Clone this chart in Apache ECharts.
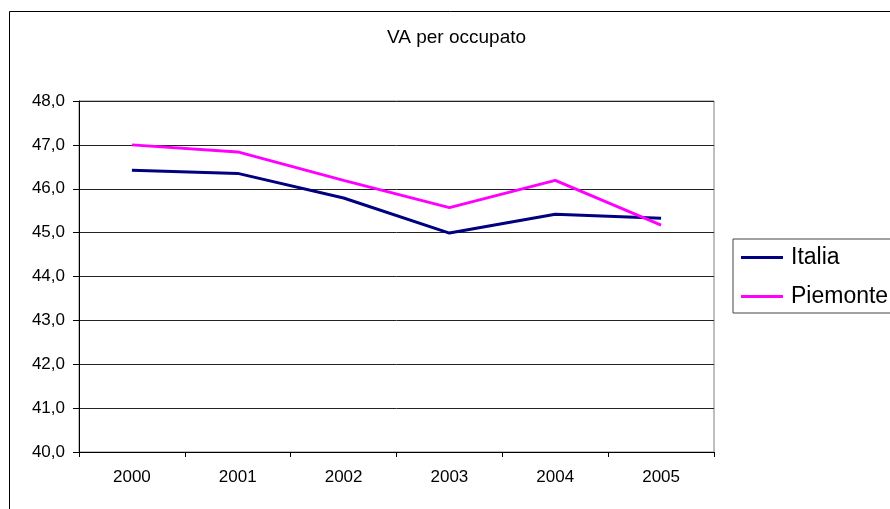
<!DOCTYPE html>
<html>
<head>
<meta charset="utf-8">
<script src="https://cdn.jsdelivr.net/npm/echarts@6/dist/echarts.min.js"></script>
<style>
  html, body { margin: 0; padding: 0; background: #fff; }
  #chart { width: 890px; height: 509px; }
</style>
</head>
<body>
<div id="chart"></div>
<script>
  var years = ['2000', '2001', '2002', '2003', '2004', '2005'];
  var italia = [46.42, 46.35, 45.79, 44.99, 45.42, 45.33];
  var piemonte = [47.00, 46.84, 46.19, 45.57, 46.19, 45.17];
  var yMin = 40, yMax = 48, yStep = 1;

  var font = "'Liberation Sans', Arial, sans-serif";
  var myChart = echarts.init(document.getElementById('chart'));

  var option = {
    animation: false,
    textStyle: { fontFamily: font },
    title: {
      text: 'VA per occupato',
      left: 387,
      top: 28,
      padding: 0,
      textStyle: { fontSize: 19, fontWeight: 'normal', color: '#000', fontFamily: font }
    },
    // cornice esterna del grafico
    graphic: [{
      type: 'rect',
      shape: { x: 9.5, y: 11.5, width: 1000, height: 1000 },
      style: { fill: 'none', stroke: '#000', lineWidth: 1 },
      silent: true
    }],
    legend: {
      orient: 'vertical',
      left: 733,
      top: 239,
      padding: [7, 40, 5, 8],
      itemGap: 16,
      itemWidth: 42,
      itemHeight: 3,
      icon: 'rect',
      borderColor: '#444',
      borderWidth: 1,
      textStyle: { fontSize: 23, lineHeight: 23, color: '#000', fontFamily: font, padding: [0, 0, 0, 3] },
      data: ['Italia', 'Piemonte']
    },
    grid: {
      left: 79,
      right: 176,
      top: 101,
      bottom: 57,
      show: true,
      borderColor: '#808080',
      borderWidth: 1
    },
    xAxis: {
      type: 'category',
      data: years,
      boundaryGap: true,
      axisLine: { lineStyle: { color: '#000', width: 1 } },
      axisTick: { show: true, length: 5, lineStyle: { color: '#000' } },
      axisLabel: { fontSize: 17, color: '#000', margin: 17, fontFamily: font },
      splitLine: { show: false }
    },
    yAxis: {
      type: 'value',
      min: yMin,
      max: yMax,
      interval: yStep,
      axisLine: { show: true, lineStyle: { color: '#000', width: 1 } },
      axisTick: { show: true, length: 6, lineStyle: { color: '#000' } },
      axisLabel: {
        fontSize: 17, color: '#000', margin: 14, fontFamily: font,
        formatter: function (v) { return v.toFixed(1).replace('.', ','); }
      },
      splitLine: { show: true, lineStyle: { color: '#222', width: 1 } }
    },
    series: [
      {
        name: 'Italia',
        type: 'line',
        data: italia,
        symbol: 'none',
        color: '#000080',
        lineStyle: { width: 3, color: '#000080' }
      },
      {
        name: 'Piemonte',
        type: 'line',
        data: piemonte,
        symbol: 'none',
        color: '#FF00FF',
        lineStyle: { width: 3, color: '#FF00FF' }
      }
    ]
  };
  myChart.setOption(option);
</script>
</body>
</html>
